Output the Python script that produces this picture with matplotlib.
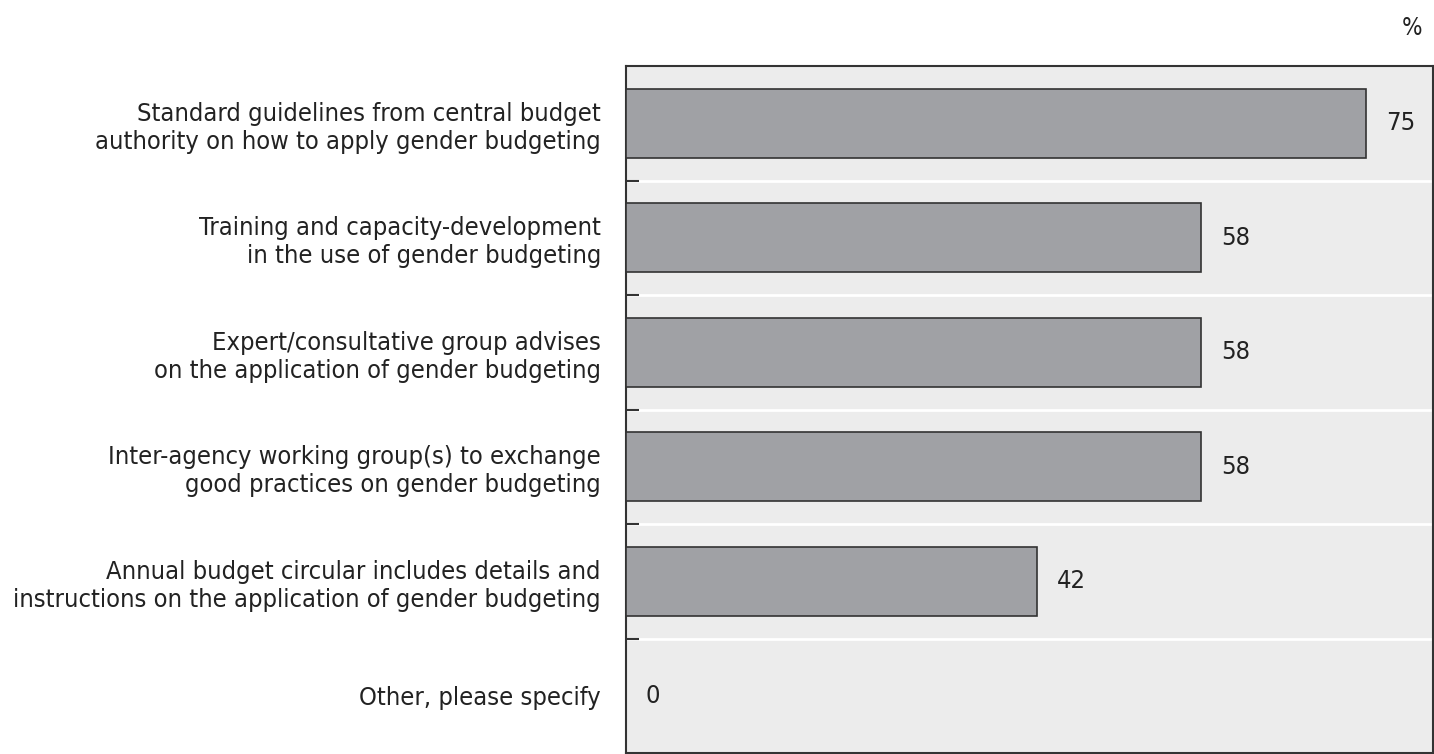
import numpy as np
import matplotlib
matplotlib.use('Agg')
import matplotlib.pyplot as plt
from matplotlib import font_manager

categories = [
    'Standard guidelines from central budget\nauthority on how to apply gender budgeting',
    'Training and capacity-development\nin the use of gender budgeting',
    'Expert/consultative group advises\non the application of gender budgeting',
    'Inter-agency working group(s) to exchange\ngood practices on gender budgeting',
    'Annual budget circular includes details and\ninstructions on the application of gender budgeting',
    'Other, please specify',
]
values = [75, 58.3, 58.3, 58.3, 41.7, 0]   # share of respondents, %
labels = ['75', '58', '58', '58', '42', '0']

# condensed face, like the original
names = {f.name for f in font_manager.fontManager.ttflist}
if 'Liberation Sans Narrow' in names:
    plt.rcParams['font.family'] = ['Liberation Sans Narrow', 'DejaVu Sans']
    fs = 19
else:
    plt.rcParams['font.family'] = ['DejaVu Sans']
    plt.rcParams['font.stretch'] = 'condensed'
    fs = 18.3

fig = plt.figure(figsize=(14.34, 7.54), dpi=100)
ax = fig.add_axes([626/1434, 1 - 753/754, 807/1434, (753-66)/754])

n = len(categories)
y = np.arange(n)
ax.set_facecolor('#ececec')
ax.barh(y, values, height=0.6, color='#a0a1a5', edgecolor='#333333', linewidth=1.2, zorder=3)

for yi, v, lab in zip(y, values, labels):
    ax.text(v + 2.0, yi, lab, va='center', ha='left', fontsize=fs, color='#222222')

ax.set_xlim(0, 81.8)
ax.set_ylim(n - 0.5, -0.5)

# white separators between categories
bounds = np.arange(0.5, n - 0.5, 1)
for b in bounds:
    ax.axhline(b, color='white', linewidth=2, zorder=1)
ax.set_yticks(bounds, minor=True)
ax.tick_params(axis='y', which='minor', direction='in', length=9, width=1.5, color='#333333')

ax.set_yticks(y)
ax.set_yticklabels(categories, fontsize=fs, color='#222222', linespacing=1.2)
ax.tick_params(axis='y', which='major', length=0, pad=18)
ax.set_xticks([])

for s in ax.spines.values():
    s.set_color('#333333')
    s.set_linewidth(1.5)

fig.text(1412/1434, 1 - 28/754, '%', ha='center', va='center', fontsize=fs - 1, color='#222222')

fig.savefig('out.png', dpi=100)
